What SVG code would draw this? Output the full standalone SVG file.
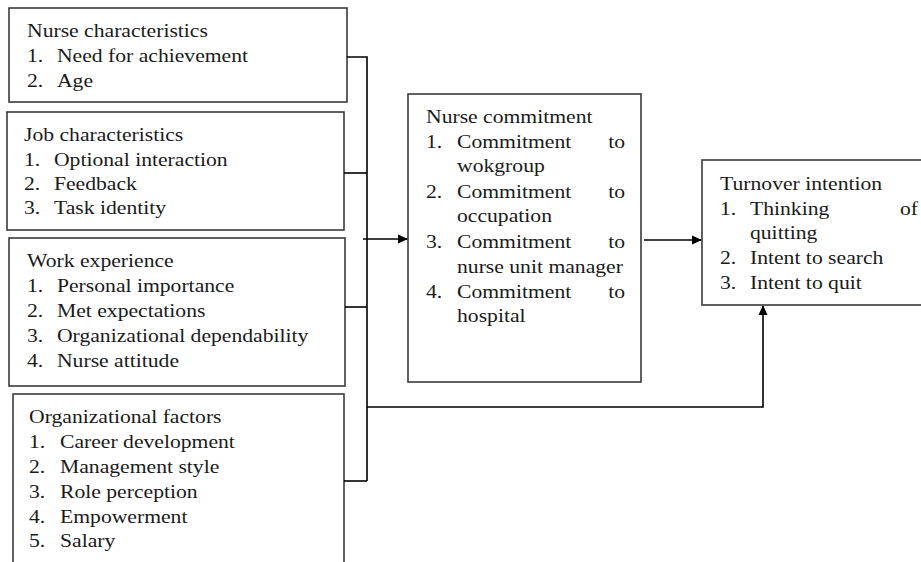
<svg xmlns="http://www.w3.org/2000/svg" width="921" height="562" viewBox="0 0 921 562">
<style>
.box{fill:#fff;stroke:#3a3a3a;stroke-width:1.6}
.t{font-family:'Liberation Serif','Times New Roman',serif;font-size:19px;fill:#1a1a1a}
.e{text-anchor:end}
.c{fill:none;stroke:#000;stroke-width:1.6}
</style>
<defs>
<marker id="ah" markerWidth="10" markerHeight="10" refX="9" refY="5" orient="auto" markerUnits="userSpaceOnUse">
<path d="M0,0.5 L10,5 L0,9.5 z" fill="#000"/>
</marker>
</defs>
<rect width="921" height="562" fill="#fff"/>
<g id="nurse-characteristics">
<rect class="box" x="9" y="8" width="338" height="94"/>
<g transform="translate(27,0) scale(1.14,1)">
<text class="t" x="0" y="37">Nurse characteristics</text>
<text class="t" x="0" y="62">1.</text><text class="t" x="26.3" y="62">Need for achievement</text>
<text class="t" x="0" y="87">2.</text><text class="t" x="26.3" y="87">Age</text>
</g>
</g>
<g id="job-characteristics">
<rect class="box" x="7" y="112" width="337" height="118"/>
<g transform="translate(24,0) scale(1.14,1)">
<text class="t" x="0" y="141">Job characteristics</text>
<text class="t" x="0" y="166">1.</text><text class="t" x="26.3" y="166">Optional interaction</text>
<text class="t" x="0" y="190">2.</text><text class="t" x="26.3" y="190">Feedback</text>
<text class="t" x="0" y="214">3.</text><text class="t" x="26.3" y="214">Task identity</text>
</g>
</g>
<g id="work-experience">
<rect class="box" x="9" y="238" width="336" height="148"/>
<g transform="translate(27,0) scale(1.14,1)">
<text class="t" x="0" y="267">Work experience</text>
<text class="t" x="0" y="292">1.</text><text class="t" x="26.3" y="292">Personal importance</text>
<text class="t" x="0" y="317">2.</text><text class="t" x="26.3" y="317">Met expectations</text>
<text class="t" x="0" y="342">3.</text><text class="t" x="26.3" y="342">Organizational dependability</text>
<text class="t" x="0" y="367">4.</text><text class="t" x="26.3" y="367">Nurse attitude</text>
</g>
</g>
<g id="organizational-factors">
<rect class="box" x="13" y="394" width="331" height="190"/>
<g transform="translate(29,0) scale(1.14,1)">
<text class="t" x="0" y="423">Organizational factors</text>
<text class="t" x="0" y="448">1.</text><text class="t" x="27.2" y="448">Career development</text>
<text class="t" x="0" y="473">2.</text><text class="t" x="27.2" y="473">Management style</text>
<text class="t" x="0" y="498">3.</text><text class="t" x="27.2" y="498">Role perception</text>
<text class="t" x="0" y="523">4.</text><text class="t" x="27.2" y="523">Empowerment</text>
<text class="t" x="0" y="547">5.</text><text class="t" x="27.2" y="547">Salary</text>
</g>
</g>
<g id="nurse-commitment">
<rect class="box" x="408" y="94" width="233" height="288"/>
<g transform="translate(426,0) scale(1.14,1)">
<text class="t" x="0" y="123">Nurse commitment</text>
<text class="t" x="0" y="148">1.</text><text class="t" x="27.2" y="148">Commitment</text><text class="t e" x="174.6" y="148">to</text>
<text class="t" x="27.2" y="172">wokgroup</text>
<text class="t" x="0" y="198">2.</text><text class="t" x="27.2" y="198">Commitment</text><text class="t e" x="174.6" y="198">to</text>
<text class="t" x="27.2" y="222">occupation</text>
<text class="t" x="0" y="248">3.</text><text class="t" x="27.2" y="248">Commitment</text><text class="t e" x="174.6" y="248">to</text>
<text class="t" x="27.2" y="273">nurse unit manager</text>
<text class="t" x="0" y="298">4.</text><text class="t" x="27.2" y="298">Commitment</text><text class="t e" x="174.6" y="298">to</text>
<text class="t" x="27.2" y="322">hospital</text>
</g>
</g>
<g id="turnover-intention">
<rect class="box" x="702" y="160" width="240" height="145"/>
<g transform="translate(720,0) scale(1.14,1)">
<text class="t" x="0" y="190">Turnover intention</text>
<text class="t" x="0" y="215">1.</text><text class="t" x="26.3" y="215">Thinking</text><text class="t e" x="173.7" y="215">of</text>
<text class="t" x="26.3" y="239">quitting</text>
<text class="t" x="0" y="264">2.</text><text class="t" x="26.3" y="264">Intent to search</text>
<text class="t" x="0" y="289">3.</text><text class="t" x="26.3" y="289">Intent to quit</text>
</g>
</g>
<g id="connectors">
<path class="c" d="M347,57 H367 V481"/>
<path class="c" d="M344,173 H367"/>
<path class="c" d="M345,307 H367"/>
<path class="c" d="M344,481 H367"/>
<path class="c" d="M363,239 H407" marker-end="url(#ah)"/>
<path class="c" d="M644,240 H701" marker-end="url(#ah)"/>
<path class="c" d="M367,407 H763 V306" marker-end="url(#ah)"/>
</g>
</svg>
